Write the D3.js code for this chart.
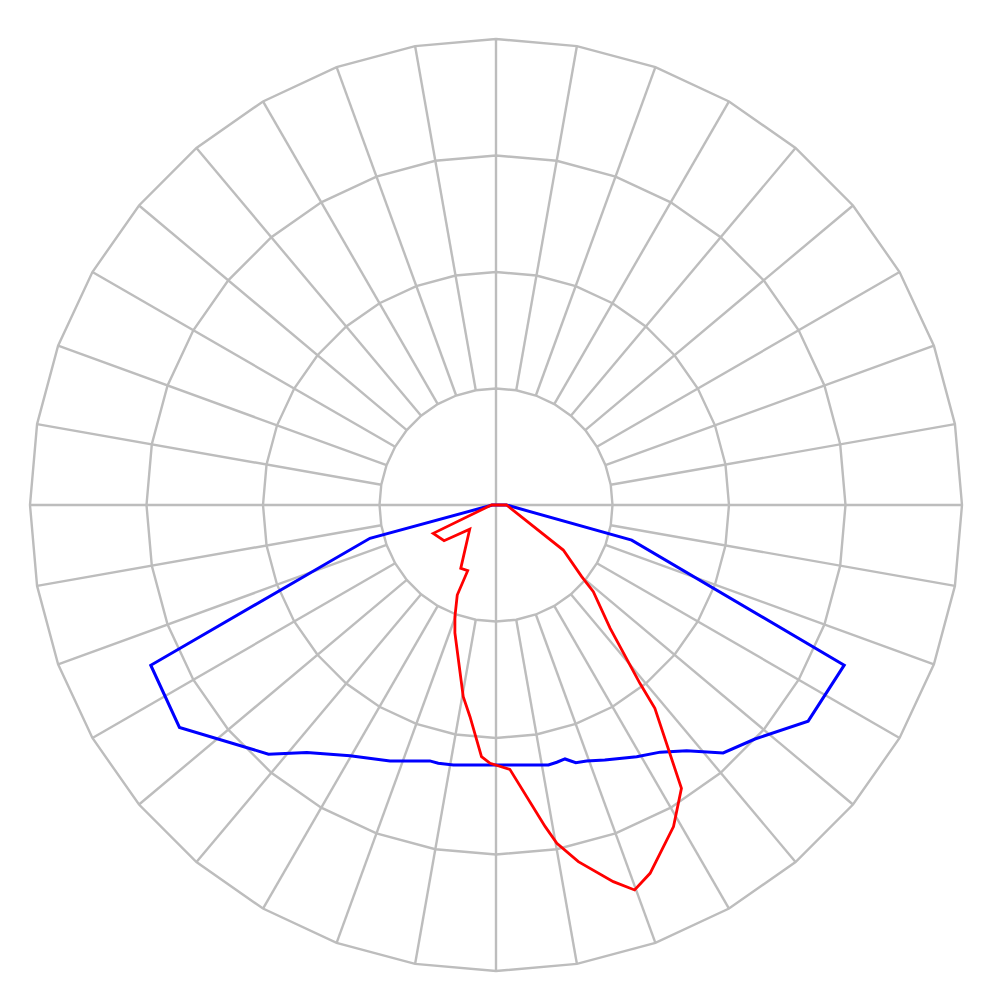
<!DOCTYPE html>
<html><head><meta charset="utf-8">
<script src="https://cdn.jsdelivr.net/npm/d3@7"></script>
<style>body{margin:0;background:#fff}svg{display:block}</style>
</head><body><svg id="chart" width="1000" height="1000"></svg>
<script>
// Grid definition
const ringValues = [100, 200, 300, 400];
const spokeAngles = [0,10,20,30,40,50,60,70,80,90,100,110,120,130,140,150,160,170,180,190,200,210,220,230,240,250,260,270,280,290,300,310,320,330,340,350];

// Angles in degrees measured from straight down (0), positive toward the right
const blueAngles = [-90, -75.2, -65.1, -54.9, -42.4, -37.4, -30.2, -22.5, -14.5, -12.6, -9.3, 11.4, 13.3, 15.2, 17.2, 19.5, 23.1, 29.2, 33.6, 37.8, 42.5, 47.9, 55.3, 65.3, 75.5, 90];
const blueValues = [3, 111.9, 326.7, 332.1, 289.6, 267.3, 249.0, 237.8, 226.9, 227.2, 226.2, 227.6, 226.9, 225.9, 231.6, 233.1, 238.0, 247.5, 254.7, 267.0, 288.6, 299.6, 325.9, 329.0, 120.3, 9];

const redAngles = [-90, -65.7, -55.5, -47.3, -29.1, -23.3, -23.3, -20.2, -17.8, -9.7, -7.0, -3.3, -1.3, 3.0, 8.7, 10.2, 13.0, 17.3, 19.8, 22.7, 28.9, 33.2, 38.0, 38.9, 42.8, 48.3, 50.1, 56.2, 90];
const redValues = [4, 59.1, 54.1, 30.7, 62.2, 61.4, 84.1, 102.1, 115.4, 166.9, 183.1, 216.4, 221.8, 227.2, 279.3, 295.0, 314.2, 338.6, 351.2, 342.7, 315.3, 290.7, 221.5, 196.7, 144.1, 111.9, 95.9, 69.5, 9];

const cx = 496, cy = 505;
const rScale = d3.scaleLinear().domain([0, 400]).range([0, 466]);
const toRad = t => (180 - t) * Math.PI / 180;

const svg = d3.select('#chart');
const g = svg.append('g').attr('transform', `translate(${cx},${cy})`);

const gridColor = '#bdbdbd';
// rings
const ringLine = d3.lineRadial().angle(d => toRad(d.a)).radius(d => rScale(d.v)).curve(d3.curveLinearClosed);
ringValues.forEach(v => {
  g.append('path')
    .attr('d', ringLine(spokeAngles.map(a => ({a, v}))))
    .attr('fill', 'none').attr('stroke', gridColor).attr('stroke-width', 2.4);
});
// spokes
spokeAngles.forEach(a => {
  const r0 = (a % 90 === 0) ? 0 : rScale(ringValues[0]);
  const r1 = rScale(ringValues[ringValues.length - 1]);
  const ang = toRad(a);
  g.append('line')
    .attr('x1', r0 * Math.sin(ang)).attr('y1', -r0 * Math.cos(ang))
    .attr('x2', r1 * Math.sin(ang)).attr('y2', -r1 * Math.cos(ang))
    .attr('stroke', gridColor).attr('stroke-width', 2.4);
});

const dataLine = d3.lineRadial().angle(d => toRad(d[0])).radius(d => rScale(d[1])).curve(d3.curveLinearClosed);
g.append('path')
  .attr('d', dataLine(blueAngles.map((a, i) => [a, blueValues[i]])))
  .attr('fill', 'none').attr('stroke', '#0000ff').attr('stroke-width', 3).attr('stroke-linejoin', 'miter');
g.append('path')
  .attr('d', dataLine(redAngles.map((a, i) => [a, redValues[i]])))
  .attr('fill', 'none').attr('stroke', '#ff0000').attr('stroke-width', 2.8).attr('stroke-linejoin', 'miter');
</script>
</body></html>
